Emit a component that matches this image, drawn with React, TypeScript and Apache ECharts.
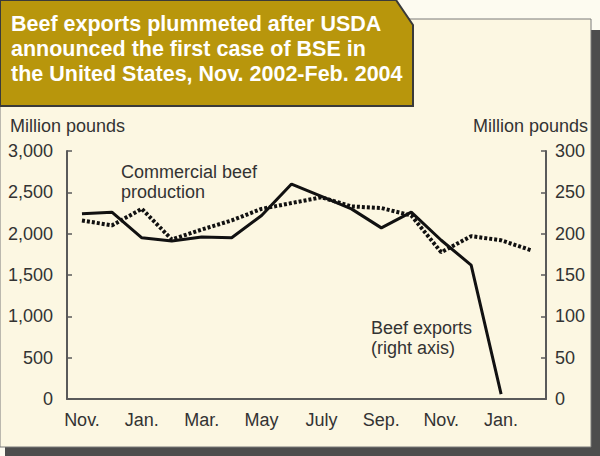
import React, { useEffect, useRef } from "react";
import * as echarts from "echarts";

const months = ["Nov.", "Dec.", "Jan.", "Feb.", "Mar.", "Apr.", "May", "June", "July", "Aug.", "Sep.", "Oct.", "Nov.", "Dec.", "Jan.", "Feb."];
const productionValues = [2160, 2100, 2300, 1930, 2050, 2160, 2300, 2370, 2440, 2330, 2310, 2220, 1775, 1970, 1920, 1800];
const exportValues = [224, 226, 195, 191, 196, 195, 222, 260, 245, 230, 207, 226, 192, 162, 6, null];
const leftTicks = [0, 3000, 500];
const rightTicks = [0, 300, 50];
const titleLines = ["Beef exports plummeted after USDA", "announced the first case of BSE in", "the United States, Nov. 2002-Feb. 2004"];

const FONT = "'Liberation Sans', Arial, sans-serif";
const TEXT = "#333333";
const AXIS = "#5a5a5a";
const FS = 18;

export default function App() {
  const ref = useRef<HTMLDivElement>(null);
  useEffect(() => {
    if (!ref.current) return;
    const chart = echarts.init(ref.current, null, { renderer: "svg" });
    const option: any = {
      animation: false,
      backgroundColor: "#FDFBF0",
      grid: { left: 67, right: 54, top: 151, bottom: 57, containLabel: false },
      graphic: [
        { type: "rect", z: -20, shape: { x: 5, y: 30, width: 595, height: 426 }, style: { fill: "#4d4d4d" } },
        { type: "rect", z: -19, shape: { x: 0, y: 19, width: 591, height: 428 }, style: { fill: "#FCF7E2", stroke: "#7a7a7a", lineWidth: 1 } },
        {
          type: "polygon", z: -18,
          shape: { points: [[0, 0], [396, 0], [413, 25], [413, 106], [0, 106]] },
          style: { fill: "#B8960C", stroke: "#3a3a3a", lineWidth: 2 },
        },
        ...titleLines.map((t, i) => ({
          type: "text", z: 10,
          style: { text: t, x: 11, y: 24 + i * 25, fill: "#ffffff", font: `bold 21.5px ${FONT}`, textVerticalAlign: "middle" },
        })),
        { type: "text", z: 10, style: { text: "Million pounds", x: 10, y: 126, fill: TEXT, font: `${FS}px ${FONT}`, textVerticalAlign: "middle" } },
        { type: "text", z: 10, style: { text: "Million pounds", x: 588, y: 126, fill: TEXT, font: `${FS}px ${FONT}`, textAlign: "right", textVerticalAlign: "middle" } },
        { type: "text", z: 10, style: { text: "Commercial beef", x: 121, y: 172, fill: TEXT, font: `${FS}px ${FONT}`, textVerticalAlign: "middle" } },
        { type: "text", z: 10, style: { text: "production", x: 121, y: 192, fill: TEXT, font: `${FS}px ${FONT}`, textVerticalAlign: "middle" } },
        { type: "text", z: 10, style: { text: "Beef exports", x: 371, y: 328, fill: TEXT, font: `${FS}px ${FONT}`, textVerticalAlign: "middle" } },
        { type: "text", z: 10, style: { text: "(right axis)", x: 371, y: 348, fill: TEXT, font: `${FS}px ${FONT}`, textVerticalAlign: "middle" } },
      ],
      xAxis: {
        type: "category",
        data: months,
        boundaryGap: true,
        axisLine: { lineStyle: { color: AXIS, width: 2 } },
        axisTick: { alignWithLabel: true, interval: 0, length: 5, lineStyle: { color: AXIS, width: 1.5 } },
        axisLabel: { interval: 1, color: TEXT, fontSize: FS, fontFamily: FONT, margin: 12 },
        splitLine: { show: false },
      },
      yAxis: [
        {
          type: "value", min: leftTicks[0], max: leftTicks[1], interval: leftTicks[2], position: "left",
          axisLine: { show: true, lineStyle: { color: AXIS, width: 2 } },
          axisTick: { show: true, inside: true, length: 5, lineStyle: { color: AXIS, width: 1.5 } },
          axisLabel: { color: TEXT, fontSize: FS, fontFamily: FONT, margin: 14, formatter: (v: number) => v.toLocaleString("en-US") },
          splitLine: { show: false },
        },
        {
          type: "value", min: rightTicks[0], max: rightTicks[1], interval: rightTicks[2], position: "right",
          axisLine: { show: true, lineStyle: { color: AXIS, width: 2 } },
          axisTick: { show: true, inside: true, length: 5, lineStyle: { color: AXIS, width: 1.5 } },
          axisLabel: { color: TEXT, fontSize: FS, fontFamily: FONT, margin: 9 },
          splitLine: { show: false },
        },
      ],
      series: [
        {
          name: "Commercial beef production", type: "line", yAxisIndex: 0, data: productionValues,
          symbol: "none", lineStyle: { color: "#111", width: 4, type: [3, 2] },
        },
        {
          name: "Beef exports", type: "line", yAxisIndex: 1, data: exportValues,
          symbol: "none", lineStyle: { color: "#111", width: 3 },
        },
      ],
    };
    chart.setOption(option);
    return () => chart.dispose();
  }, []);
  return <div ref={ref} style={{ position: "fixed", left: 0, top: 0, width: 600, height: 456 }} />;
}
